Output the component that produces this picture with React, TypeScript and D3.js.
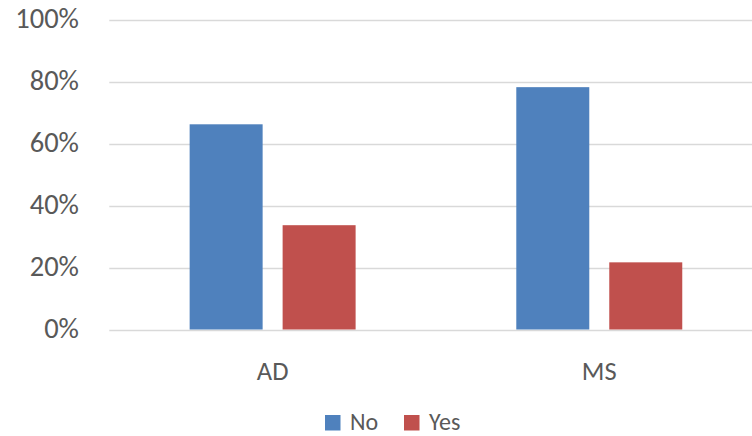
import React, { useEffect, useRef } from 'react';
import * as d3 from 'd3';

// chart data
const categories = ['AD', 'MS'];
const seriesNames = ['No', 'Yes'];
const noValues = [0.663, 0.783];
const yesValues = [0.337, 0.217];
const yTicks = [0, 0.2, 0.4, 0.6, 0.8, 1.0];
const colors = ['#4F81BD', '#C0504D'];

const WIDTH = 752;
const HEIGHT = 436;
const FONT = 'Carlito, Calibri, Lato, sans-serif';

export default function App() {
  const svgRef = useRef<SVGSVGElement>(null);

  useEffect(() => {
    if (!svgRef.current) return;
    const svg = d3.select(svgRef.current);
    svg.selectAll('*').remove();

    const left = 109.3;
    const right = 762.6;
    const top = 20;
    const bottom = 329.5;

    const x0 = d3.scaleBand<string>().domain(categories).range([left, right]);
    const x1 = d3
      .scaleBand<string>()
      .domain(seriesNames)
      .range([0, x0.bandwidth()])
      .paddingInner(0.215)
      .paddingOuter(0.864);
    const y = d3.scaleLinear().domain([0, 1]).range([bottom, top]);

    // gridlines
    svg
      .append('g')
      .selectAll('line')
      .data(yTicks)
      .join('line')
      .attr('x1', left)
      .attr('x2', WIDTH)
      .attr('y1', d => Math.round(y(d)) + 0.5)
      .attr('y2', d => Math.round(y(d)) + 0.5)
      .attr('stroke', '#D9D9D9')
      .attr('stroke-width', 1.3);

    // y labels
    svg
      .append('g')
      .selectAll('text')
      .data(yTicks)
      .join('text')
      .attr('x', 79)
      .attr('y', d => y(d) + 8)
      .attr('text-anchor', 'end')
      .attr('font-family', FONT)
      .attr('font-size', 28.5)
      .attr('fill', '#595959')
      .text(d => d3.format('.0%')(d));

    // bars
    const seriesData = [noValues, yesValues];
    const groups = svg
      .append('g')
      .selectAll('g')
      .data(categories)
      .join('g')
      .attr('transform', d => `translate(${x0(d)},0)`);

    groups
      .selectAll('rect')
      .data((_, i) => seriesNames.map((s, j) => ({ s, v: seriesData[j][i], j })))
      .join('rect')
      .attr('x', d => x1(d.s)!)
      .attr('width', x1.bandwidth())
      .attr('y', d => y(d.v))
      .attr('height', d => bottom - y(d.v))
      .attr('fill', d => colors[d.j]);

    // category labels
    svg
      .append('g')
      .selectAll('text')
      .data(categories)
      .join('text')
      .attr('x', d => x0(d)! + x0.bandwidth() / 2)
      .attr('y', 379.5)
      .attr('text-anchor', 'middle')
      .attr('font-family', FONT)
      .attr('font-size', 26.5)
      .attr('fill', '#595959')
      .text(d => d);

    // legend
    const legendItems = [
      { name: seriesNames[0], x: 325 },
      { name: seriesNames[1], x: 404 },
    ];
    const lg = svg
      .append('g')
      .selectAll('g')
      .data(legendItems)
      .join('g')
      .attr('transform', d => `translate(${d.x},415)`);
    lg.append('rect')
      .attr('width', 15.5)
      .attr('height', 15.5)
      .attr('fill', (_, i) => colors[i]);
    lg.append('text')
      .attr('x', 25)
      .attr('y', 14.5)
      .attr('font-family', FONT)
      .attr('font-size', 24)
      .attr('fill', '#595959')
      .text(d => d.name);
  }, []);

  return (
    <div style={{ position: 'absolute', left: 0, top: 0 }}>
      <svg ref={svgRef} width={WIDTH} height={HEIGHT} style={{ display: 'block', background: '#fff' }} />
    </div>
  );
}
